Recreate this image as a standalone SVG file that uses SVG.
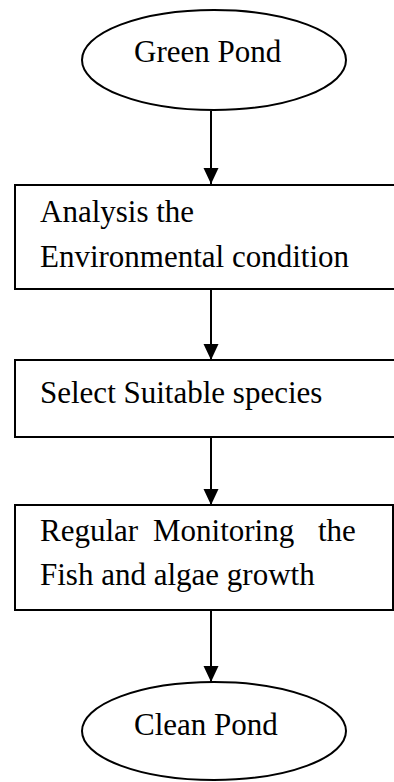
<svg xmlns="http://www.w3.org/2000/svg" width="394" height="782" viewBox="0 0 394 782">
<defs>
<style>
.n{fill:#fff;stroke:#000;stroke-width:2}
.t{font-family:"Liberation Serif","Times New Roman",serif;font-size:31px;fill:#000}
.c{stroke:#000;stroke-width:2;fill:none}
</style>
<marker id="ah" markerUnits="userSpaceOnUse" markerWidth="16" markerHeight="16" viewBox="0 0 16 16" refX="16" refY="8" orient="auto">
<path d="M0,0.5 L16,8 L0,15.5 Z" fill="#000"/>
</marker>
</defs>
<rect width="394" height="782" fill="#fff"/>
<g id="connectors">
<line class="c" x1="211" y1="111" x2="211" y2="184" marker-end="url(#ah)"/>
<line class="c" x1="211" y1="289" x2="211" y2="360" marker-end="url(#ah)"/>
<line class="c" x1="211" y1="437" x2="211" y2="505" marker-end="url(#ah)"/>
<line class="c" x1="211" y1="610" x2="211" y2="682" marker-end="url(#ah)"/>
</g>
<g id="green-pond">
<ellipse class="n" cx="214" cy="60" rx="132" ry="50"/>
<text class="t" x="134" y="62">Green Pond</text>
</g>
<g id="analysis">
<rect class="n" x="15" y="185" width="390" height="104"/>
<text class="t" x="40" y="222">Analysis the</text>
<text class="t" x="40" y="267">Environmental condition</text>
</g>
<g id="select">
<rect class="n" x="15" y="360" width="390" height="77"/>
<text class="t" x="40" y="403">Select Suitable species</text>
</g>
<g id="monitoring">
<rect class="n" x="15" y="505" width="378" height="105"/>
<text class="t" y="541"><tspan x="40">Regular</tspan><tspan x="153">Monitoring</tspan><tspan x="318">the</tspan></text>
<text class="t" x="40" y="585">Fish and algae growth</text>
</g>
<g id="clean-pond">
<ellipse class="n" cx="214" cy="731" rx="132" ry="49"/>
<text class="t" x="134" y="735">Clean Pond</text>
</g>
</svg>
